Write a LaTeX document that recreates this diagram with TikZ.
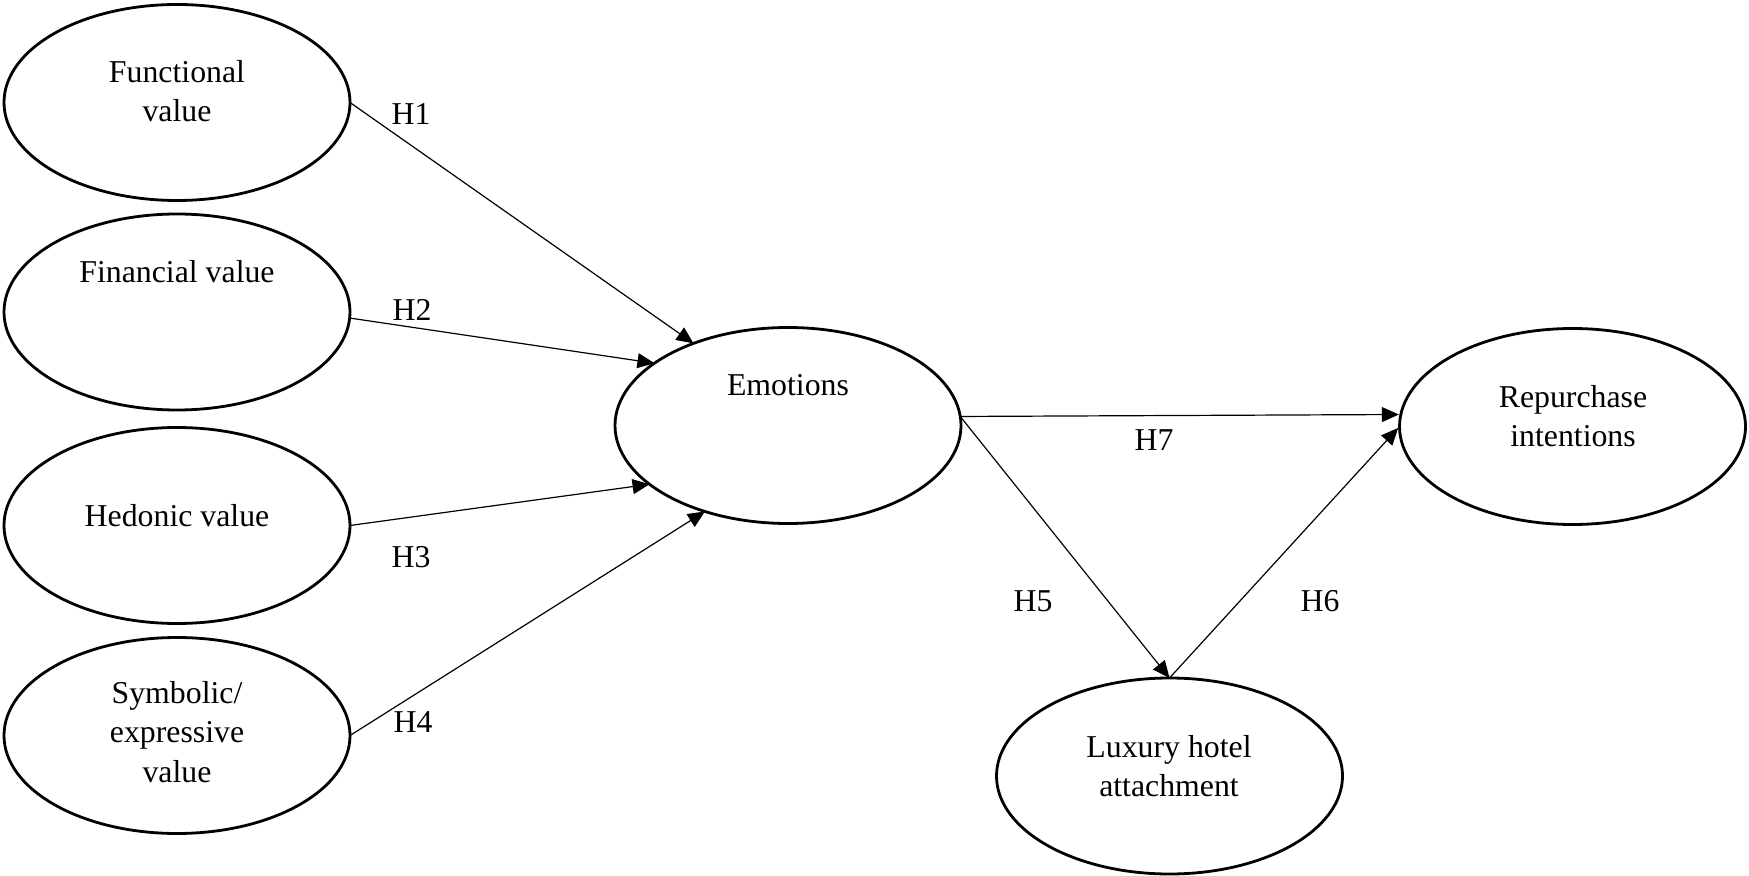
\documentclass[tikz,border=0pt]{standalone}
\usepackage{fontspec}
\setmainfont{Liberation Serif}
\usetikzlibrary{shapes.geometric,arrows.meta}
\begin{document}
\begin{tikzpicture}[x=0.5pt,y=-0.5pt,
  var/.style={ellipse,draw,line width=1.4pt,minimum width=173pt,minimum height=98pt,inner sep=0pt,outer sep=0pt},
  lbl/.style={font=\fontsize{15.9}{19.6}\selectfont,align=center,inner sep=0pt},
  hyp/.style={font=\fontsize{15.9}{19.6}\selectfont,inner sep=0pt},
  conn/.style={line width=0.6pt,-{Triangle[length=8.5pt,width=7.5pt]}}]
\useasboundingbox (0,0) rectangle (1749,876);
% latent variables
\node[var] (fun) at (177,102.5) {};
\node[var] (fin) at (177,312) {};
\node[var] (hed) at (177,525.5) {};
\node[var] (sym) at (177,735.5) {};
\node[var] (emo) at (788,425.5) {};
\node[var] (rep) at (1572.5,426.5) {};
\node[var] (lux) at (1169.5,776) {};
% texts
\node[lbl] (funT) at (177,91.5) {Functional\\value};
\node[lbl] (finT) at (177,272) {Financial value};
\node[lbl] (hedT) at (177,516) {Hedonic value};
\node[lbl] (symT) at (177,732) {Symbolic/\\expressive\\value};
\node[lbl] (emoT) at (788,385.5) {Emotions};
\node[lbl] (repT) at (1573,416) {Repurchase\\intentions};
\node[lbl] (luxT) at (1169,766) {Luxury hotel\\attachment};
% connectors
\draw[conn] (fun.east) -- (emo.139.4);
\draw[conn] (fin.-2) -- (emo.155.2);
\draw[conn] (hed.east) -- (emo.203);
\draw[conn] (sym.east) -- (emo.226.8);
\draw[conn] (emo.3) -- (lux.north);
\draw[conn,shorten >=1pt] (emo.3) -- (rep.176);
\draw[conn,shorten >=1pt] (lux.north) -- (rep.west);
% hypothesis labels
\node[hyp] (h1) at (411,114) {H1};
\node[hyp] (h2) at (412,310) {H2};
\node[hyp] (h3) at (411,557) {H3};
\node[hyp] (h4) at (413,722) {H4};
\node[hyp] (h5) at (1033,601) {H5};
\node[hyp] (h6) at (1320,601) {H6};
\node[hyp] (h7) at (1154,440) {H7};
\end{tikzpicture}
\end{document}
